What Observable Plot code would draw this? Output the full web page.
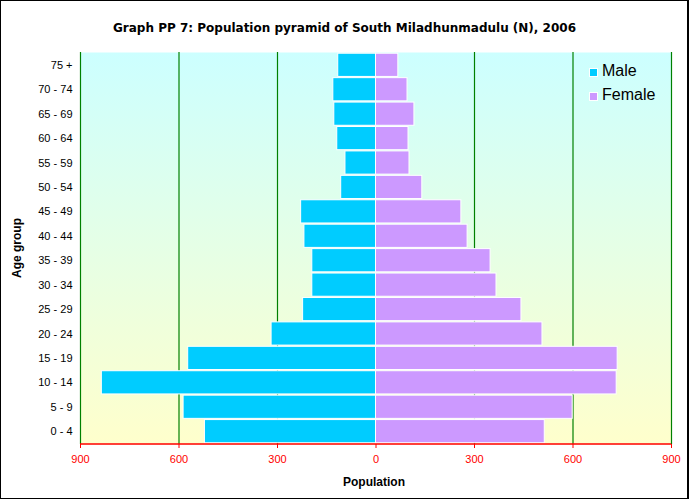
<!DOCTYPE html>
<html>
<head>
<meta charset="utf-8">
<script src="https://cdn.jsdelivr.net/npm/d3@7"></script>
<script src="https://cdn.jsdelivr.net/npm/@observablehq/plot@0.6"></script>
<style>
  html, body { margin: 0; padding: 0; background: #fff; }
  #chart { position: relative; width: 689px; height: 499px; font-family: "Liberation Sans", Arial, sans-serif; overflow: hidden; }
  #chart svg { position: absolute; left: 0; top: 0; }
  .txt { position: absolute; line-height: 1; white-space: nowrap; color: #000; }
  #border { position: absolute; left: 0; top: 0; width: 689px; height: 499px; box-sizing: border-box; border: 1px solid #000; border-right-width: 2px; pointer-events: none; }
  .sw { position: absolute; width: 7px; height: 7px; border: 1px solid #fff; }
</style>
</head>
<body>
<div id="chart"></div>
<script>
const ageGroups = ["0 - 4","5 - 9","10 - 14","15 - 19","20 - 24","25 - 29","30 - 34","35 - 39","40 - 44","45 - 49","50 - 54","55 - 59","60 - 64","65 - 69","70 - 74","75 +"];
const male   = [521, 586, 835, 572, 318, 222, 194, 194, 218, 228, 106, 93, 118, 127, 130, 115];
const female = [514, 599, 733, 736, 507, 443, 367, 349, 279, 260, 141, 102, 99, 117, 96, 68];
const xTicks = [-900, -600, -300, 0, 300, 600, 900];
const gridTicks = [-900, -600, -300, 300, 600, 900];
const sexes = ["Male", "Female"];
const sexColors = ["#00ccff", "#cc99ff"];

const data = [];
ageGroups.forEach((a, i) => {
  data.push({age: a, sex: "Male", value: -male[i]});
  data.push({age: a, sex: "Female", value: female[i]});
});

const gradientDefs = () => {
  const defs = d3.create("svg:defs");
  const g = defs.append("linearGradient").attr("id", "bgGrad")
    .attr("x1", 0).attr("y1", 0).attr("x2", 0).attr("y2", 1);
  g.append("stop").attr("offset", "0%").attr("stop-color", "#ccffff");
  g.append("stop").attr("offset", "100%").attr("stop-color", "#ffffcc");
  return defs.node();
};

const axisLine = (index, scales, values, dims) => {
  const y = dims.height - dims.marginBottom;
  return d3.create("svg:line")
    .attr("x1", scales.x(xTicks[0])).attr("x2", scales.x(xTicks[xTicks.length - 1]))
    .attr("y1", y).attr("y2", y)
    .attr("stroke", "red").attr("stroke-width", 1.5).node();
};

const plot = Plot.plot({
  width: 689,
  height: 499,
  marginLeft: 80,
  marginRight: 18,
  marginTop: 52,
  marginBottom: 55,
  style: {fontFamily: "Liberation Sans, Arial, sans-serif", fontSize: "11px", background: "transparent", color: "#000"},
  x: {domain: [-900, 900], label: null},
  y: {domain: ageGroups.slice().reverse(), padding: 0.05, round: false, label: null},
  color: {domain: sexes, range: sexColors},
  marks: [
    gradientDefs,
    Plot.frame({fill: "url(#bgGrad)", stroke: "none"}),
    Plot.ruleX(gridTicks, {stroke: "#008000", strokeWidth: 1.2}),
    Plot.barX(data, {y: "age", x1: 0, x2: "value", fill: "sex", stroke: "white", strokeWidth: 1}),
    axisLine,
    Plot.axisX({ticks: xTicks, tickFormat: d => Math.abs(d), tickSize: 4, tickPadding: 7, color: "red", label: null, fontSize: 11}),
    Plot.axisY({tickSize: 0, tickPadding: 8, label: null, fontSize: 11})
  ]
});

const chart = document.getElementById("chart");
chart.appendChild(plot);

function addText(text, style) {
  const d = document.createElement("div");
  d.className = "txt";
  d.textContent = text;
  Object.assign(d.style, style);
  chart.appendChild(d);
  return d;
}

addText("Graph PP 7: Population pyramid of South Miladhunmadulu (N), 2006",
  {left: "0px", width: "689px", textAlign: "center", top: "21.5px", fontSize: "12px", fontWeight: "bold", fontFamily: "DejaVu Sans, Verdana, sans-serif"});
addText("Population",
  {left: "274px", width: "200px", textAlign: "center", top: "476px", fontSize: "12px", fontWeight: "bold"});
addText("Age group",
  {left: "-33.5px", width: "100px", textAlign: "center", top: "241px", height: "14px", lineHeight: "14px", fontSize: "12px", fontWeight: "bold", transform: "rotate(-90deg)"});

// legend
sexes.forEach((s, i) => {
  const sw = document.createElement("div");
  sw.className = "sw";
  sw.style.background = sexColors[i];
  sw.style.left = "588.5px";
  sw.style.top = (67.5 + i * 24) + "px";
  chart.appendChild(sw);
  addText(s, {left: "602px", top: (63 + i * 23.5) + "px", fontSize: "16px"});
});

const b = document.createElement("div");
b.id = "border";
chart.appendChild(b);
</script>
</body>
</html>
